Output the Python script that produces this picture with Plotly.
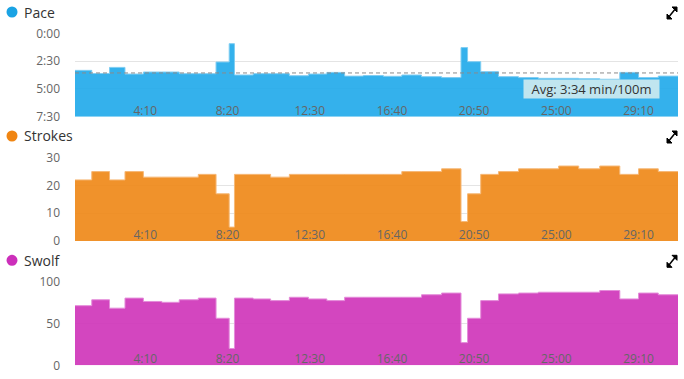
import plotly.graph_objects as go

# ---- data ----
lap_start = [36, 87, 141, 188, 244, 300, 353, 411, 465, 505, 521, 578, 631, 688, 746, 802,
             856, 913, 974, 1030, 1090, 1151, 1210, 1230, 1270, 1324, 1385, 1445, 1507, 1568,
             1632, 1693, 1750, 1810]
session_end = 1870
pace_s = [200, 217, 184, 220, 209, 209, 218, 218, 155, 56, 225, 218, 218, 229, 220, 211,
          231, 228, 232, 225, 234, 239, 77, 153, 207, 234, 239, 243, 243, 245, 248, 211, 239, 231]
strokes = [22, 25, 22, 25, 23, 23, 23, 24, 17, 5, 24, 24, 23, 24, 24, 24,
           24, 24, 24, 25, 25, 26, 7, 17, 24, 25, 26, 26, 27, 26, 27, 24, 26, 25]
swolf = [71, 78, 68, 80, 76, 75, 78, 80, 56, 20, 80, 79, 77, 81, 79, 77,
         81, 81, 81, 81, 84, 86, 27, 56, 77, 85, 86, 87, 87, 87, 89, 79, 86, 84]
avg_pace_s = 214
avg_label = "Avg: 3:34 min/100m"

x_tickvals = [250, 500, 750, 1000, 1250, 1500, 1750]
x_ticktext = ["4:10", "8:20", "12:30", "16:40", "20:50", "25:00", "29:10"]
pace_tickvals = [0, 150, 300, 450]
pace_ticktext = ["0:00", "2:30", "5:00", "7:30"]
strokes_tickvals = [0, 10, 20, 30]
swolf_tickvals = [0, 50, 100]

titles = ["Pace", "Strokes", "Swolf"]
dot_colors = ["#1aa3e4", "#f08512", "#cc2fba"]
fill_colors = ["rgba(30,168,234,0.9)", "rgba(238,134,20,0.9)", "rgba(206,50,184,0.9)"]
edge_colors = ["#7fcdf2", "#f6b877", "#e48cd9"]

W, H = 684, 379
def px(x):
    return x / W
def py(y):
    return 1 - y / H

xs = lap_start + [session_end]
def steps(v):
    return v + [v[-1]]

fig = go.Figure()

# pace: fill from the value down to the bottom of the reversed axis
fig.add_trace(go.Scatter(x=[lap_start[0], session_end], y=[450, 450], mode="lines",
                         line=dict(width=0, color="rgba(0,0,0,0)"), xaxis="x", yaxis="y",
                         hoverinfo="skip", showlegend=False))
fig.add_trace(go.Scatter(x=xs, y=steps(pace_s), mode="lines", line_shape="hv",
                         line=dict(color=edge_colors[0], width=1), fill="tonexty",
                         fillcolor=fill_colors[0], xaxis="x", yaxis="y", showlegend=False))
fig.add_trace(go.Scatter(x=xs, y=steps(strokes), mode="lines", line_shape="hv",
                         line=dict(color=edge_colors[1], width=1), fill="tozeroy",
                         fillcolor=fill_colors[1], xaxis="x2", yaxis="y2", showlegend=False))
fig.add_trace(go.Scatter(x=xs, y=steps(swolf), mode="lines", line_shape="hv",
                         line=dict(color=edge_colors[2], width=1), fill="tozeroy",
                         fillcolor=fill_colors[2], xaxis="x3", yaxis="y3", showlegend=False))

font_fam = "Open Sans, DejaVu Sans, sans-serif"
xdom = [px(75), px(678)]
ydoms = [[py(116.7), py(33.3)], [py(241), py(157.7)], [py(365.3), py(281.3)]]
xlabel_line = [101.5, 225.5, 349.5]   # pixel row of the (invisible) x-axis line; labels hang below it

def xaxis(pos_px):
    return dict(domain=xdom, range=[lap_start[0], session_end], anchor="free",
                position=py(pos_px), automargin=False,
                tickvals=x_tickvals, ticktext=x_ticktext,
                showgrid=False, zeroline=False, showline=False, ticks="",
                tickfont=dict(family=font_fam, size=12, color="#666"), fixedrange=True)

def yaxis(anchor, dom, rng, tv, tt=None):
    d = dict(domain=dom, range=rng, anchor=anchor, tickvals=tv, automargin=False,
             showgrid=True, gridcolor="#e4e4e4", gridwidth=1, zeroline=False,
             showline=False, ticks="", ticklabelstandoff=14,
             tickfont=dict(family=font_fam, size=12, color="#666"), fixedrange=True)
    if tt is not None:
        d["ticktext"] = tt
    return d

fig.update_layout(
    width=W, height=H, margin=dict(l=0, r=0, t=0, b=0, autoexpand=False),
    paper_bgcolor="white", plot_bgcolor="white", hovermode=False,
    xaxis=xaxis(xlabel_line[0]), xaxis2=xaxis(xlabel_line[1]), xaxis3=xaxis(xlabel_line[2]),
    yaxis=yaxis("x", ydoms[0], [450, 0], pace_tickvals, pace_ticktext),
    yaxis2=yaxis("x2", ydoms[1], [0, 30], strokes_tickvals),
    yaxis3=yaxis("x3", ydoms[2], [0, 100], swolf_tickvals),
)

shapes = []
annotations = []
title_y = [12, 136, 260.3]
for i in range(3):
    cy = title_y[i]
    shapes.append(dict(type="circle", xref="paper", yref="paper",
                       x0=px(6.5), x1=px(17.5), y0=py(cy + 5.5), y1=py(cy - 5.5),
                       fillcolor=dot_colors[i], line=dict(width=0)))
    annotations.append(dict(text=titles[i], xref="paper", yref="paper", x=px(22), y=py(cy),
                            xanchor="left", yanchor="middle", showarrow=False,
                            font=dict(family=font_fam, size=14, color="#333")))
    # expand icon (two small diagonal arrows)
    top = cy - 5
    path = (f"M{px(677):.5f},{py(top):.5f} L{px(672):.5f},{py(top):.5f} "
            f"L{px(677):.5f},{py(top+5):.5f} Z "
            f"M{px(667):.5f},{py(top+12):.5f} L{px(672):.5f},{py(top+12):.5f} "
            f"L{px(667):.5f},{py(top+7):.5f} Z")
    shapes.append(dict(type="path", xref="paper", yref="paper", path=path,
                       fillcolor="black", line=dict(color="black", width=1)))
    shapes.append(dict(type="line", xref="paper", yref="paper",
                       x0=px(676), y0=py(top+1), x1=px(668), y1=py(top+11),
                       line=dict(color="black", width=1.5)))

# average line
shapes.append(dict(type="line", xref="x", yref="y", x0=lap_start[0], x1=session_end,
                   y0=avg_pace_s, y1=avg_pace_s, layer="above",
                   line=dict(color="#8a8a8a", width=1, dash="4px,3px")))
annotations.append(dict(text=avg_label, xref="paper", yref="paper", x=px(591.5), y=py(89),
                        xanchor="center", yanchor="middle", showarrow=False,
                        width=135, height=18, bgcolor="rgb(192,229,239)", borderpad=0,
                        font=dict(family=font_fam, size=13, color="#333")))

fig.update_layout(shapes=shapes, annotations=annotations)
fig.write_html("out.html", config={"displayModeBar": False, "staticPlot": True},
               post_script="document.body.style.margin='0';document.body.style.overflow='hidden';")
